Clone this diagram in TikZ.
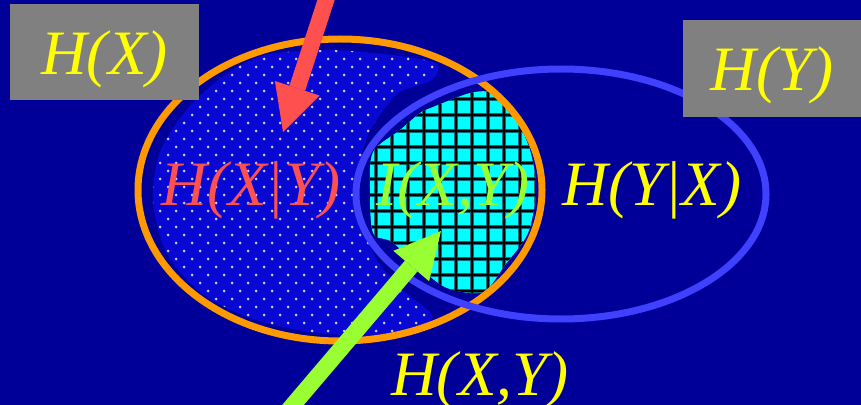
\documentclass[tikz,border=0pt]{standalone}
\usepackage{fontspec}
\setmainfont{Liberation Serif}
\usetikzlibrary{arrows.meta}

\definecolor{bgblue}{RGB}{0,0,153}
\definecolor{blobblue}{RGB}{8,8,210}
\definecolor{dotblue}{RGB}{200,200,255}
\definecolor{hxorange}{RGB}{255,153,0}
\definecolor{hyblue}{RGB}{64,64,255}
\definecolor{mixcyan}{RGB}{0,255,255}
\definecolor{gridteal}{RGB}{0,110,120}
\definecolor{boxgray}{RGB}{128,128,128}
\definecolor{lblyellow}{RGB}{255,255,0}
\definecolor{lblred}{RGB}{255,80,80}
\definecolor{lblgreen}{RGB}{153,255,51}

\begin{document}
\begin{tikzpicture}[
  x=0.02cm, y=-0.02cm,
  lbl/.style={font=\fontsize{36}{40}\selectfont\itshape, inner sep=0pt, anchor=base},
  entbox/.style={fill=boxgray, inner sep=0pt, text height=0.9cm, text depth=0pt,
    font=\fontsize{36}{40}\selectfont\itshape, text=lblyellow},
  setline/.style={line width=0.14cm},
  gridhalo/.style={gridteal, line width=0.08cm},
  gridline/.style={black, line width=0.035cm},
  pointer/.style={line width=0.33cm, -{Triangle[length=0.92cm, width=0.94cm, line width=0pt]}}
]

% === Background ===
\fill[bgblue] (0,0) rectangle (861,405);
\useasboundingbox (0,0) rectangle (861,405);

% === Dotted part: H(X|Y) ===
\begin{scope}
  \clip plot[smooth cycle] coordinates {(265,55) (330,50) (400,56) (437,64) (432,80)
    (400,92) (382,112) (366,140) (358,180) (362,222) (378,262) (405,292) (432,315)
    (418,332) (370,336) (310,332) (250,318) (200,292) (166,252) (153,200) (160,152)
    (188,108) (225,75)};
  \fill[blobblue] (140,40) rectangle (450,345);
  \foreach \r in {0,...,37} {
    \pgfmathsetmacro{\dy}{51+8*\r}
    \pgfmathsetmacro{\dx}{136+8*mod(\r+1,2)}
    \foreach \k in {0,...,19}
      \fill[dotblue] ({\dx+16*\k},\dy) circle (1.5);
  }
\end{scope}

% === Grid part: I(X,Y) ===
\begin{scope}
  \clip plot[smooth cycle] coordinates {(433,107) (470,93) (493,93) (513,113)
    (530,150) (536,190) (528,233) (505,265) (483,292) (447,288) (420,268)
    (392,242) (373,233) (370,190) (373,152) (400,130) (420,113)};
  \fill[mixcyan] (350,80) rectangle (545,305);
  \foreach \sty in {gridhalo,gridline} {
    \foreach \gx in {360,376,...,536}
      \draw[\sty] (\gx,80) -- (\gx,305);
    \foreach \gy in {83,99,...,307}
      \draw[\sty] (350,\gy) -- (545,\gy);
  }
\end{scope}

% === The two entropies ===
\draw[setline, hxorange] (340,190) ellipse [x radius=202, y radius=151];
\draw[setline, hyblue] (561,194) ellipse [x radius=205, y radius=125];

% Boxes
\node[entbox, minimum width=3.78cm, minimum height=1.92cm] (hx) at (104.5,52) {H(X)};
\node[entbox, minimum width=3.56cm, minimum height=1.94cm] (hy) at (772,68.5) {H(Y)};

% Labels
\node[lbl, text=lblred] (hxgy) at (251,205) {H(X|Y)};
\node[lbl, text=lblgreen] (ixy) at (453,205) {I(X,Y)};
\node[lbl, text=lblyellow] (hygx) at (652,205) {H(Y|X)};
\node[lbl, text=lblyellow] (hxy) at (480,395) {H(X,Y)};

% Pointers
\coordinate (redtail) at (328,-6);
\coordinate (redtip) at (283,132);
\coordinate (greentail) at (287,412);
\coordinate (greentip) at (441,231);
\draw[pointer, lblred] (redtail) -- (redtip);
\draw[pointer, lblgreen] (greentail) -- (greentip);

\end{tikzpicture}
\end{document}
